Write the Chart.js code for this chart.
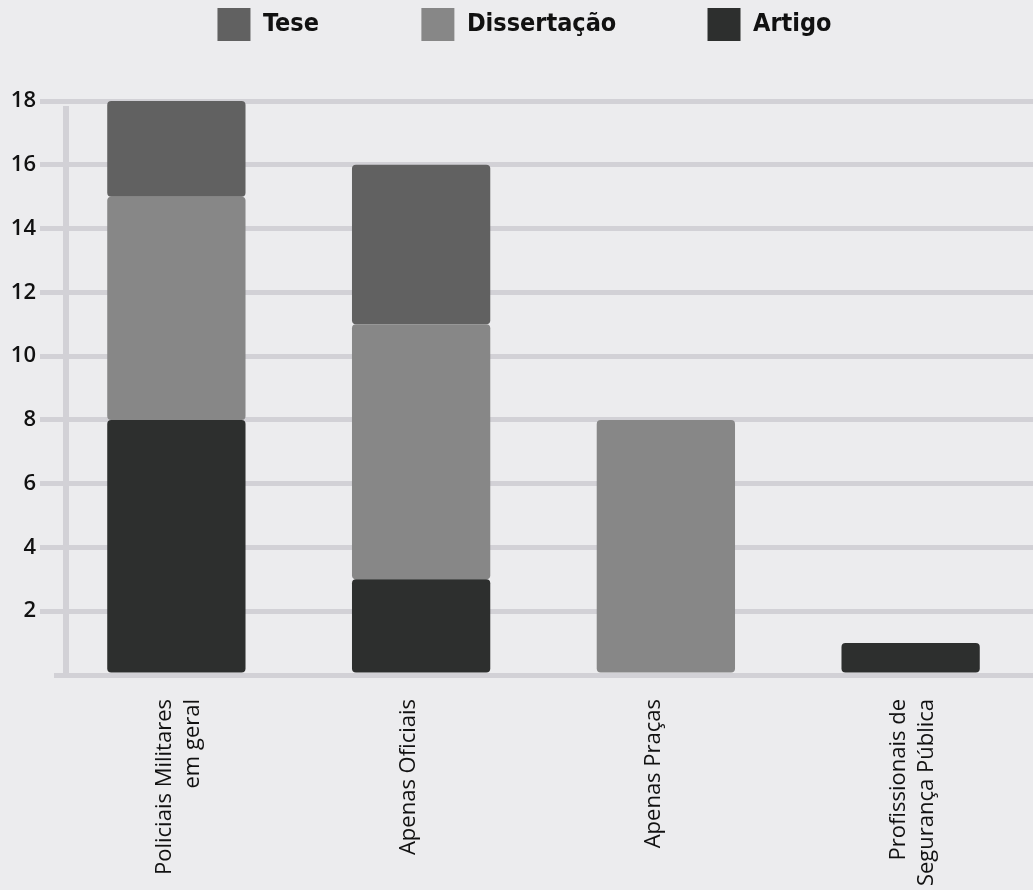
<!DOCTYPE html>
<html lang="pt">
<head>
<meta charset="utf-8">
<title>Publicações por público</title>
<script src="https://cdn.jsdelivr.net/npm/chart.js@4/dist/chart.umd.min.js"></script>
<style>
  html, body { margin: 0; padding: 0; background: #ececee; }
  #wrap { position: relative; width: 1033px; height: 890px; }
</style>
</head>
<body>
<div id="wrap"><canvas id="chart"></canvas></div>
<script>
// Dados
const categorias = [
    ['Policiais Militares', 'em geral'],
    'Apenas Oficiais',
    'Apenas Praças',
    ['Profissionais de', 'Segurança Pública']
];
const artigo = [8, 3, 0, 1];
const dissertacao = [7, 8, 8, 0];
const tese = [3, 5, 0, 0];
const yMin = 0, yMax = 18, yStep = 2;

// Cores
const COR_TESE = '#616161';
const COR_DISS = '#878787';
const COR_ARTIGO = '#2d2f2e';
const COR_GRADE = '#d2d1d6';

const LEGEND_FONT = "'DejaVu Sans Condensed', 'Liberation Sans Narrow', sans-serif";
const TICK_FONT = "'Open Sans', 'Noto Sans', sans-serif";

// espaço extra entre a legenda e o gráfico + pequeno deslocamento horizontal
const legendSpacing = {
    id: 'legendSpacing',
    beforeInit(chart) {
        const lg = chart.legend;
        if (!lg) return;
        const fit = lg.fit;
        lg.fit = function () {
            fit.call(this);
            this.height += 50;
        };
        const draw = lg.draw;
        lg.draw = function () {
            this.ctx.save();
            this.ctx.translate(8, 0);
            draw.apply(this, arguments);
            this.ctx.restore();
        };
    }
};

// linha vertical do eixo y (ligeiramente dentro da área)
const axisLine = {
    id: 'axisLine',
    beforeDatasetsDraw(chart) {
        const { ctx, chartArea } = chart;
        const x = chartArea.left + 12;
        ctx.save();
        ctx.strokeStyle = COR_GRADE;
        ctx.lineWidth = 6;
        ctx.beginPath();
        ctx.moveTo(x, chartArea.top + 5);
        ctx.lineTo(x, chartArea.bottom + 2);
        ctx.stroke();
        ctx.restore();
    }
};

const radius = { topLeft: 4, topRight: 4, bottomLeft: 4, bottomRight: 4 };

function barDataset(label, data, color) {
    return {
        label: label,
        data: data,
        backgroundColor: color,
        borderWidth: 0,
        borderRadius: radius,
        borderSkipped: false,
        categoryPercentage: 1,
        barPercentage: 0.565
    };
}

// espaços depois do texto da legenda (o Chart.js só tem um "padding" comum)
const legendGaps = ['\u2003\u2003\u2003\u2003\u2009', '\u2003\u2003\u2003\u2002\u2009', ''];

new Chart(document.getElementById('chart'), {
    type: 'bar',
    data: {
        labels: categorias,
        datasets: [
            barDataset('Artigo', artigo, COR_ARTIGO),
            barDataset('Dissertação', dissertacao, COR_DISS),
            barDataset('Tese', tese, COR_TESE)
        ]
    },
    plugins: [legendSpacing, axisLine],
    options: {
        responsive: true,
        maintainAspectRatio: false,
        animation: false,
        layout: { padding: 0 },
        plugins: {
            tooltip: { enabled: false },
            legend: {
                position: 'top',
                labels: {
                    boxWidth: 33,
                    boxHeight: 33,
                    padding: 8,
                    color: '#111',
                    font: { family: LEGEND_FONT, size: 25, weight: 'bold' },
                    generateLabels(chart) {
                        const items = Chart.defaults.plugins.legend.labels.generateLabels(chart).reverse();
                        items.forEach((it, i) => { it.text = it.text + legendGaps[i]; });
                        return items;
                    }
                }
            }
        },
        scales: {
            x: {
                stacked: true,
                grid: { display: false, drawTicks: false },
                border: { display: false },
                ticks: {
                    minRotation: 90,
                    maxRotation: 90,
                    padding: 24,
                    labelOffset: -12,
                    color: '#111',
                    font: { family: TICK_FONT, size: 22, lineHeight: 1.3 }
                },
                afterFit(scale) { scale.height = 215; }
            },
            y: {
                stacked: true,
                min: yMin,
                max: yMax,
                border: { display: false },
                grid: {
                    color: COR_GRADE,
                    lineWidth: 5,
                    tickLength: 14,
                    tickColor: ctx => (ctx.tick && ctx.tick.value === 0) ? 'rgba(0,0,0,0)' : COR_GRADE,
                    tickWidth: 5
                },
                ticks: {
                    stepSize: yStep,
                    padding: 4,
                    color: '#111',
                    font: { family: TICK_FONT, size: 22, weight: '600' },
                    callback: v => v === 0 ? '' : v
                },
                afterFit(scale) { scale.width = 54; }
            }
        }
    }
});
</script>
</body>
</html>
